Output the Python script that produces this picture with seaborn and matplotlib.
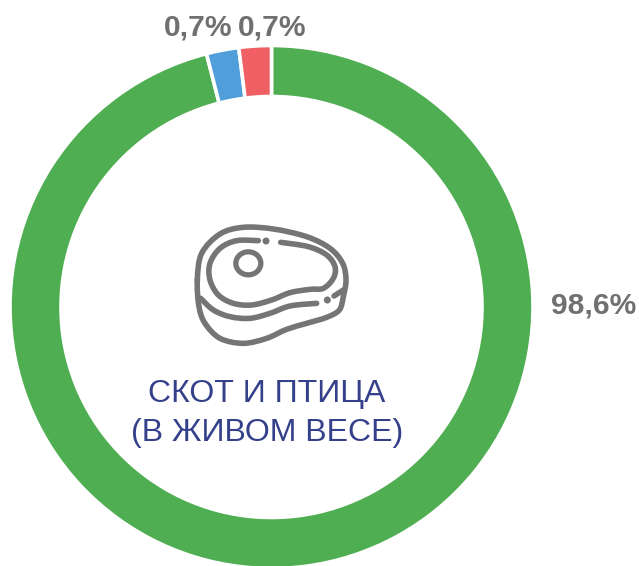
import numpy as np
import matplotlib
matplotlib.use("Agg")
import matplotlib.pyplot as plt
import seaborn as sns
from matplotlib.path import Path
from matplotlib.patches import PathPatch, Ellipse

# wedge sizes as drawn (share of the ring), labels as printed
sizes = [96.0, 2.0, 2.0]
labels = ["98,6%", "0,7%", "0,7%"]
colors = ["#4FAE51", "#519FDA", "#EF5F63"]
title_lines = ["СКОТ И ПТИЦА", "(В ЖИВОМ ВЕСЕ)"]

sns.set_theme(style="white")
plt.rcParams["font.family"] = ["Liberation Sans", "DejaVu Sans"]

W, H = 639, 566
fig = plt.figure(figsize=(W / 100, H / 100), dpi=100)
ax = fig.add_axes([0, 0, 1, 1])

ax.pie(sizes, colors=sns.color_palette(colors), startangle=90, counterclock=False,
       center=(271.5, H - 307), radius=261.5,
       wedgeprops=dict(width=51, edgecolor="white", linewidth=2.6))
ax.set_xlim(0, W)
ax.set_ylim(0, H)
ax.set_aspect("equal")
ax.axis("off")

gray = "#707070"
ax.text(198.5, H - 27, labels[1], ha="center", va="center", fontsize=21.6, fontweight="bold", color=gray)
ax.text(272.5, H - 27, labels[2], ha="center", va="center", fontsize=21.6, fontweight="bold", color=gray)
ax.text(593.5, H - 306, labels[0], ha="center", va="center", fontsize=21.6, fontweight="bold", color=gray)

ax.text(267, H - 394, title_lines[0], ha="center", va="center", fontsize=23, color="#34408A")
ax.text(267, H - 433, title_lines[1], ha="center", va="center", fontsize=23, color="#34408A")


# icon, zoom-crop coordinates -> pixels
def to_ax(p):
    p = np.array(p, dtype=float)
    return np.column_stack([180 + p[:, 0] / 3, H - (210 + p[:, 1] / 3)])


def smooth(points, closed=False):
    # catmull-rom through the traced points
    p = to_ax(points)
    n = len(p)
    verts = [p[0]]
    codes = [Path.MOVETO]
    last = n if closed else n - 1
    for i in range(last):
        if closed:
            p0, p1, p2, p3 = p[(i - 1) % n], p[i], p[(i + 1) % n], p[(i + 2) % n]
        else:
            p0, p1, p2, p3 = p[max(i - 1, 0)], p[i], p[i + 1], p[min(i + 2, n - 1)]
        verts += [p1 + (p2 - p0) / 6, p2 - (p3 - p1) / 6, p2]
        codes += [Path.CURVE4] * 3
    return Path(verts, codes)


outer = [(52, 210), (65, 130), (120, 72), (190, 52), (280, 57), (380, 80), (450, 115), (488, 160),
         (498, 210), (490, 260), (478, 300), (440, 322), (380, 340), (320, 358), (260, 385),
         (190, 400), (120, 385), (75, 340), (57, 290)]
inner = [(235, 92), (170, 92), (120, 115), (90, 160), (90, 210), (115, 255), (160, 280), (215, 285),
         (275, 270), (330, 248), (390, 238), (430, 235), (460, 205), (465, 170), (440, 135),
         (385, 110), (302, 97)]
lower = [(62, 265), (100, 300), (150, 320), (210, 325), (270, 310), (330, 288), (410, 280)]
tail = [(462, 258), (490, 240)]

icon_color = "#757575"
for path, closed in [(outer, True), (inner, False), (lower, False), (tail, False)]:
    ax.add_patch(PathPatch(smooth(path, closed), fill=False, edgecolor=icon_color,
                           linewidth=4.0, capstyle="round", joinstyle="round"))
cx, cy = to_ax([(205, 160)])[0]
ax.add_patch(Ellipse((cx, cy), 25, 23, fill=False, edgecolor=icon_color, linewidth=3.8))
for dot in [(258, 93), (442, 270)]:
    dx, dy = to_ax([dot])[0]
    ax.add_patch(Ellipse((dx, dy), 7, 7, color=icon_color, linewidth=0))

fig.savefig("out.png", dpi=100)
